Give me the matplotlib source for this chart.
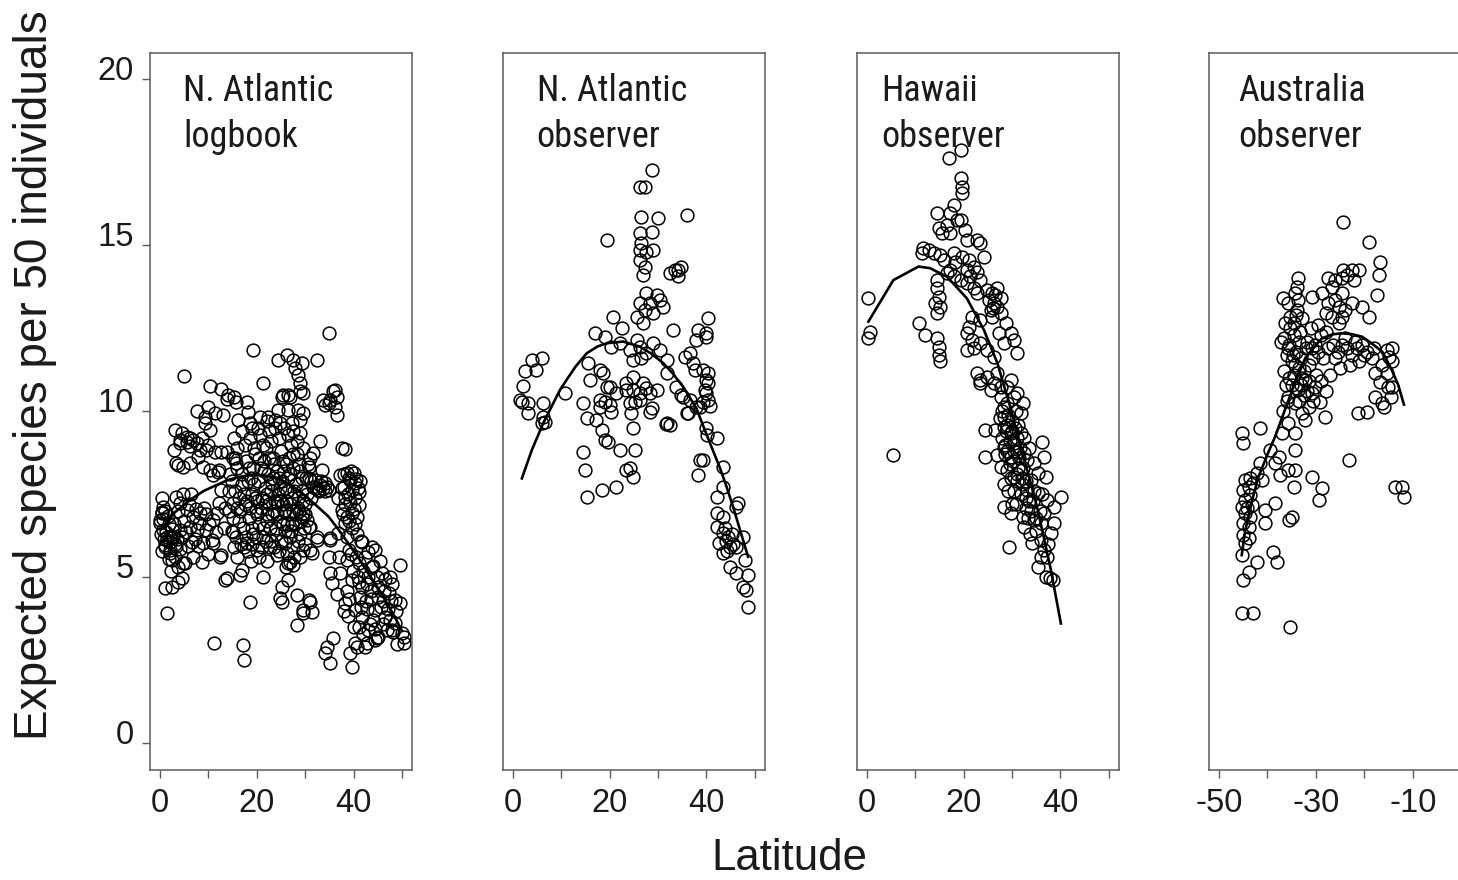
import matplotlib
matplotlib.use("Agg")
import matplotlib.pyplot as plt
from matplotlib.transforms import ScaledTranslation
import numpy as np

# ---------------- data (latitude, expected species per 50 individuals) ----------------
panel_titles = [("N. Atlantic", "logbook"), ("N. Atlantic", "observer"),
                ("Hawaii", "observer"), ("Australia", "observer")]

nal_logbook_pts = [
    (34.8,12.35),(19.2,11.85),(5.0,11.05),(26.2,11.7),(27.4,11.55),(24.4,11.55),(32.4,11.55),(29.3,11.45),
    (27.9,11.3),(28.5,11.1),(21.3,10.84),(10.3,10.75),(12.7,10.68),(14.0,10.5),(13.8,10.38),(15.2,10.44),
    (15.8,10.29),(17.9,10.29),(25.5,10.49),(26.9,10.44),(28.9,10.84),(29.6,10.54),(29.0,10.62),(33.7,10.34),
    (34.8,10.24),(35.8,10.6),(36.5,10.44),(36.5,9.89),(36.2,10.65),(36.2,10.14),(34.1,10.19),(35.1,10.34),
    (25.1,10.44),(26.5,10.49),(24.4,10.04),(26.5,10.04),(28.6,10.04),(29.6,9.94),(24.8,9.64),(27.2,9.64),
    (28.9,9.74),(7.6,10.0),(9.3,9.84),(10.0,10.14),(13.1,9.89),(11.4,9.94),(9.3,9.64),(10.3,9.44),
    (16.2,9.74),(18.2,9.99),(18.6,9.64),(20.7,9.84),(22.4,9.84),(23.8,9.74),
    (3.1,9.44),(4.5,9.34),(2.8,8.83),(4.1,9.04),(5.5,9.24),(6.9,9.14),(6.2,8.94),(8.3,8.83),(3.4,8.43),
    (4.8,8.33),(6.2,8.43),(7.9,8.63),(9.6,8.83),(8.9,8.33),(10.3,8.23),(12.1,8.23),(4.1,9.13),(5.5,9.08),
    (6.2,9.19),(7.6,9.04),(8.6,9.19),(10.0,8.99),(11.4,8.78),(12.7,8.78),(3.8,8.38),(11.0,8.08),(12.0,8.18),
    (13.8,8.78),(15.1,8.58),(15.8,8.43),
    (33.1,9.1),(37.5,8.9),(38.2,8.85),(31.0,8.58),(31.7,8.73),(30.7,8.33),(33.4,8.23),(32.0,7.93),(34.1,7.83),
    (34.8,7.63),(32.7,7.63),(31.7,7.73),(33.1,7.78),(33.7,7.68),(34.4,7.73),
    (37.2,8.08),(38.6,8.13),(40.0,8.13),(39.3,7.93),(40.3,7.83),(37.9,7.73),(39.6,7.63),(41.0,7.58),(38.2,7.43),
    (40.3,7.38),(39.3,7.23),(41.0,7.18),(37.5,7.03),(39.6,6.93),(38.6,6.83),(40.6,6.83),(38.2,6.63),(39.6,6.48),
    (39.0,8.0),(40.5,7.95),(38.8,7.5),(40.0,7.05),
    (36.8,6.32),(38.6,6.22),(35.1,6.17),(32.4,6.22),(31.0,6.52),(30.3,6.73),(29.6,6.93),
    (0.35,7.38),(0.7,7.13),(0.35,6.93),(0.0,6.73),(1.4,6.12),(1.0,5.92),(2.1,5.72),(2.4,5.52),(0.35,6.98),
    (0.0,6.63),(0.7,6.42),(1.4,6.22),(1.0,5.97),(2.1,5.82),(3.1,5.62),(4.8,5.42),(2.7,6.22),(4.1,6.42),
    (3.4,7.43),(4.1,7.23),(5.5,7.03),(6.9,6.83),(8.3,6.93),(6.2,6.52),(7.6,6.42),(8.9,6.02),(10.7,6.12),
    (9.6,6.42),(11.0,6.73),(12.4,5.62),(8.6,5.47),(12.7,7.63),(15.1,7.23),(1.2,6.35),(2.0,6.05),(1.8,6.6),
    (3.0,6.0),(0.8,6.15),(2.5,6.45),(5.0,6.7),(6.0,7.2),(7.2,6.15),(9.0,7.1),(10.2,6.6),(11.8,6.95),(13.2,6.5),
    (5.8,5.95),(4.2,5.85),
    (0.2,6.3),(0.6,6.75),(1.0,7.0),(1.6,6.85),(2.2,6.2),(2.9,6.6),(3.5,6.15),(3.3,5.95),(1.8,5.55),(0.5,5.8),
    (4.6,6.2),(5.3,6.35),(6.6,6.05),(7.8,5.95),(3.8,7.0),(4.7,7.5),(6.5,7.5),(7.5,7.05),(8.0,6.65),(9.5,6.9),
    (10.0,5.7),(11.5,6.35),(13.5,7.1),(12.2,7.25),(6.8,5.6),(3.7,5.3),(2.2,5.2),
    (1.0,4.67),(2.4,4.72),(3.8,4.87),(4.5,4.97),(1.4,3.92),(11.2,3.01),(17.2,2.96),(17.4,2.51),(13.8,4.97),
    (16.5,5.07),(16.9,5.22),(21.3,5.02),(18.5,4.27),(13.4,4.92),(15.1,6.37),(11.0,6.02),(5.2,5.42),(12.7,5.67),
    (25.1,4.72),(24.8,4.37),(28.2,4.47),(30.7,4.32),(31.3,3.96),(29.6,3.92),(28.2,3.56),(25.1,4.27),(26.5,4.92),
    (29.6,4.02),(31.0,4.27),(35.8,3.16),(34.1,2.71),(35.1,2.41),(39.6,2.31),(34.4,2.9),
    (34.8,5.62),(35.1,5.12),(35.5,4.82),(37.2,5.12),(39.0,5.82),(38.6,5.52),(41.7,6.07),(43.0,5.77),(44.4,5.82),
    (41.0,5.42),(43.7,5.32),(45.8,5.12),(47.5,5.02),(49.6,5.37),(39.6,4.92),(41.7,4.72),(43.0,5.02),(45.1,4.72),
    (47.2,4.52),(48.6,4.32),(49.6,4.22),(38.2,4.22),(40.3,4.02),(41.7,3.81),(44.4,4.02),(46.5,3.81),(48.6,3.61),
    (49.9,3.31),(41.0,3.51),(43.0,3.41),(45.1,3.21),(40.3,3.01),(42.4,2.91),(44.4,3.11),(47.9,3.41),(50.3,3.01),
    (39.3,2.71),(50.3,3.21),(48.2,3.36),(44.8,3.16),(42.7,3.01),(40.6,2.91),(38.0,4.0),(39.0,4.35),(42.5,4.3),
    (43.5,4.6),(44.0,3.7),(46.0,4.3),(47.0,4.05),(45.5,5.5),(42.0,5.2),(40.5,5.6),(42.8,4.05),(38.8,3.85),
    (46.8,3.4),(48.0,4.8),(41.2,4.4),(43.3,3.6),(45.0,4.4),(36.5,4.5),(37.0,5.6),(39.8,5.2),(44.0,5.35),(46.5,4.95),
    (39.5,5.7),(40.8,5.0),(42.3,5.6),(43.8,5.9),(44.8,5.0),(46.2,4.6),(47.7,4.3),(48.8,4.0),(46.0,3.6),(44.5,3.45),
    (42.0,3.3),(43.6,4.35),(41.5,4.1),(40.0,3.5),(45.6,4.1),(47.5,3.7),(49.0,3.0),(42.8,4.8),(41.0,4.85),(38.6,4.6),
    (17.9,6.02),(20.0,5.82),(22.7,5.92),(24.1,5.67),(26.2,5.72),(27.5,5.92),(29.6,5.82),(31.3,5.72),(26.9,5.47),
    (27.5,5.37),(24.1,7.23),(25.8,7.03),(27.2,6.63),(29.3,6.83),(30.7,6.52),(32.4,6.12),(35.1,6.12),(31.0,5.82),
    (25.8,6.02),(27.6,5.62),(26.5,5.42),
    (37.5,7.7),(38.0,8.1),(38.3,7.2),(39.5,8.2),(40.8,7.7),(41.2,7.9),(37.8,6.9),(39.0,6.7),(40.2,6.6),(36.8,7.4),
    (40.7,6.3),(41.6,6.1),(32.2,7.7),(32.9,7.6),(33.3,7.9),(34.0,7.6),(31.2,7.9),
    (14.5,8.1),(15.5,7.6),(16.0,8.3),(16.5,7.0),(17.0,7.8),(17.2,6.5),(17.8,8.5),(18.0,7.3),(18.3,6.8),(18.8,8.0),
    (19.0,7.5),(19.2,6.3),(19.6,8.7),(19.8,7.0),(20.2,7.9),(20.4,6.6),(20.8,8.3),(21.0,7.4),(21.3,6.2),(21.6,7.7),
    (21.8,8.9),(22.0,6.9),(22.3,8.1),(22.5,7.2),(22.8,6.5),(23.1,7.8),(23.3,8.6),(23.6,7.0),(23.9,6.3),(24.1,8.2),
    (24.4,7.5),(24.7,6.7),(25.0,8.8),(25.2,7.9),(25.5,7.2),(25.8,6.4),(26.0,8.4),(26.3,7.6),(26.6,6.9),(26.9,8.1),
    (27.2,7.4),(27.5,8.7),(27.8,6.6),(28.1,7.8),(28.4,7.1),(28.7,8.4),(29.0,6.3),(29.3,7.6),(29.6,8.9),(30.0,7.2),
    (15.0,6.8),(15.8,6.2),(16.3,7.4),(14.3,7.0),(14.8,6.4),(16.8,6.0),(18.6,9.2),(20.6,9.3),(22.6,9.4),(24.6,9.2),
    (26.4,9.3),(28.3,9.1),(17.5,9.0),(19.4,8.9),(21.2,9.0),(23.0,9.1),(25.3,8.5),(27.0,9.0),(28.8,7.0),(30.2,8.0),
    (16.0,8.9),(15.2,9.2),(18.1,5.8),(20.5,5.6),(22.0,5.5),(23.5,5.9),(25.0,6.1),(26.8,6.2),(28.4,6.1),(29.8,6.5),
    (19.0,6.0),(21.8,6.1),(24.0,6.5),(17.6,7.2),(19.5,7.8),(21.4,8.5),(23.4,8.0),(25.6,7.0),(27.4,7.0),(28.9,8.2),
    (22.2,7.5),(20.0,7.3),(18.4,8.3),(24.8,7.7),(26.1,7.3),(26.7,8.6),(30.3,7.5),(30.8,8.0),(31.2,7.4),(29.5,7.3),
    (14.2,7.6),(14.9,7.9),(15.4,8.6),(15.9,7.1),(16.4,6.7),(16.9,8.1),(17.3,7.5),(17.7,6.2),(18.2,7.9),(18.5,7.1),
    (18.9,6.5),(19.3,8.3),(19.7,7.4),(20.1,6.9),(20.5,8.6),(20.9,7.1),(21.2,6.5),(21.5,8.2),(21.9,7.3),(22.2,6.7),
    (22.6,8.6),(22.9,7.6),(23.2,6.9),(23.6,8.4),(23.8,7.3),(24.2,6.9),(24.5,8.0),(24.9,7.3),(25.3,6.6),(25.6,8.2),
    (25.9,7.7),(26.2,6.6),(26.5,8.0),(26.9,7.2),(27.1,6.4),(27.4,8.3),(27.7,7.6),(28.0,6.9),(28.3,8.7),(28.6,7.4),
    (29.1,6.7),(29.4,8.0),(29.9,6.9),(30.5,8.4),(20.3,9.5),(22.0,9.7),(23.7,9.5),(25.7,9.5),(27.5,9.4),(28.9,9.35),
    (19.0,9.5),(17.0,9.4),(21.0,5.9),(23.0,6.1),(19.8,6.2),(17.3,5.9),(16.0,5.6),(18.7,5.5),(24.5,5.8),(26.0,5.3),
    (28.9,5.6),(30.0,6.0),(15.3,5.9),
]

nal_observer_pts = [
    (28.7,17.27),(26.2,16.77),(27.3,16.77),(26.6,15.86),(30.0,15.81),(35.9,15.91),(19.4,15.16),(26.2,15.36),
    (28.7,15.41),(26.6,15.06),(26.2,14.86),(27.6,14.81),(29.0,14.86),(26.2,14.56),(27.3,14.36),(26.9,14.11),
    (32.4,14.16),(33.5,14.26),(34.1,14.06),(34.8,14.36),(34.1,14.26),
    (27.6,13.55),(29.7,13.5),(26.2,13.25),(28.3,13.25),(30.4,13.35),(31.1,13.15),(27.3,13.05),(29.0,12.95),
    (20.7,12.85),(25.6,12.85),(26.9,12.65),(33.1,12.45),(40.3,12.8),(38.3,12.45),(40.0,12.35),(37.9,12.15),
    (22.5,12.5),(17.0,12.35),(19.0,12.25),(20.4,11.95),(22.1,12.05),(24.2,11.85),(25.6,12.15),(26.2,11.95),
    (27.6,11.75),(29.0,12.05),(30.4,11.85),(31.8,11.55),(26.6,11.6),(24.9,11.55),(15.6,11.45),(18.0,11.25),
    (35.5,11.65),(36.6,11.75),(37.2,11.45),(37.6,11.25),(40.0,12.25),(39.3,11.25),(40.3,11.15),(40.3,10.85),
    (40.0,10.55),(40.3,10.35),(40.7,10.15),
    (3.9,11.55),(6.0,11.6),(4.9,11.25),(2.5,11.2),(2.2,10.75),(1.5,10.35),(3.2,10.25),(6.3,10.25),(10.8,10.55),
    (1.9,10.29),(3.2,9.94),(6.3,9.84),(6.7,9.69),(6.0,9.64),
    (15.3,9.79),(17.3,9.74),(18.0,10.14),(19.0,10.29),(20.1,10.19),(20.4,9.99),(19.4,10.74),(18.4,9.44),(19.0,9.14),
    (19.7,9.08),(22.1,8.83),(25.2,8.83),(24.9,9.49),(24.5,9.94),(25.2,10.29),(23.5,10.64),(24.9,10.64),(26.2,10.54),
    (27.6,10.69),(28.7,10.09),(28.3,9.99),(31.8,9.64),(32.4,9.59),(31.6,9.62),(34.8,10.49),(36.2,9.94),(37.9,10.14),
    (39.3,10.29),(39.7,10.64),(40.0,10.94),
    (14.6,8.78),(14.9,8.23),(15.3,7.43),(18.4,7.63),(21.4,7.73),(23.5,8.23),(24.2,8.28),(24.9,8.03),
    (38.6,8.53),(39.3,8.53),(38.3,8.08),(42.1,9.19),(43.4,8.33),(43.4,7.73),(42.1,7.43),(42.1,6.93),(42.1,6.52),
    (43.4,6.83),(43.4,6.32),(44.5,6.22),(46.2,7.13),(46.5,7.23),(47.5,6.22),(46.2,5.92),(47.9,5.52),(44.8,5.92),
    (42.7,6.02),(43.4,5.72),(44.8,5.32),(46.2,5.12),(48.6,5.07),(47.5,4.72),(48.6,4.11),(48.2,4.62),(44.0,6.1),
    (45.2,6.3),(44.2,5.8),(45.5,6.0),(43.8,6.5),(35.2,10.44),(35.9,9.94),(39.9,9.5),(40.1,9.3),
    (15.9,10.94),(18.7,11.14),(20.1,10.74),(21.4,10.54),(23.5,10.84),(24.9,11.04),(26.9,10.84),(28.3,10.54),
    (29.7,10.64),(31.8,11.14),(33.8,10.74),(36.6,10.34),(38.6,10.14),(26.2,10.34),(24.2,10.24),(18.0,10.34),(14.6,10.24),
]

hawaii_observer_pts = [
    (16.9,17.62),(19.4,17.87),(19.4,17.02),(19.7,16.77),(19.7,16.57),(18.0,16.22),(17.3,15.97),(14.5,15.97),
    (18.7,15.76),(16.6,15.61),(14.9,15.51),(15.6,15.36),(19.4,15.76),(20.4,15.46),(20.7,15.16),(22.8,15.16),
    (23.5,15.06),(17.3,15.36),
    (11.7,14.91),(12.8,14.86),(11.4,14.76),(13.8,14.76),(15.2,14.71),(15.9,14.56),(18.0,14.76),(18.3,14.51),
    (19.7,14.66),(21.1,14.56),(20.7,14.26),(22.1,14.36),(22.8,14.21),(24.2,14.66),(21.4,14.06),(23.5,13.96),
    (14.5,13.96),(14.5,13.7),(14.9,13.45),(15.2,13.15),(14.5,12.95),(14.2,13.25),
    (16.6,14.16),(18.0,14.06),(19.4,13.96),(20.7,13.85),(22.1,13.7),(22.8,13.55),(17.3,14.26),
    (24.9,13.65),(25.9,13.55),(27.0,13.7),(25.2,13.35),(26.3,13.25),(27.7,13.4),(25.6,13.05),(27.0,13.15),
    (27.7,12.95),(25.9,12.85),(26.5,13.5),(26.0,13.1),(21.8,12.85),(21.1,12.55),(23.5,12.75),
    (28.7,12.65),(29.7,12.35),(30.4,12.15),(31.1,11.75),(28.3,12.05),(27.3,12.35),
    (20.7,12.35),(21.8,12.15),(20.7,11.85),(22.1,11.9),(23.5,12.05),(24.9,11.85),(26.3,11.65),
    (0.35,13.4),(0.7,12.4),(0.35,12.2),
    (10.7,12.65),(12.1,12.3),(14.5,12.2),(14.9,11.95),(14.9,11.7),(15.2,11.5),
    (22.8,11.14),(23.5,10.94),(24.9,11.04),(26.3,10.84),(27.0,11.14),(27.7,10.74),(29.0,10.74),(29.7,10.94),
    (31.1,10.54),(32.2,10.24),(29.0,10.24),(27.7,10.44),(5.5,8.68),
    (23.5,10.84),(25.6,10.64),(30.4,10.44),(31.8,9.94),(28.3,10.14),(28.3,9.84),
    (24.5,9.44),(26.6,9.44),(24.5,8.63),(27.0,8.68),(28.3,9.54),(29.7,9.34),(28.3,8.93),(30.4,9.04),(31.8,9.34),
    (29.7,8.63),(31.1,8.78),(32.5,8.73),(27.7,8.33),(29.0,8.23),(30.4,8.03),(32.2,8.28),(33.2,8.53),(34.6,8.43),
    (36.3,9.08),(36.6,8.63),(35.3,8.13),(37.0,8.03),(33.9,7.93),(33.2,7.63),(35.3,7.53),(37.3,7.33),(40.1,7.43),
    (38.7,7.13),(36.6,6.93),(38.7,6.63),(28.3,7.13),(29.7,6.93),(32.2,6.83),(32.5,6.52),(34.6,6.73),(29.4,5.92),
    (34.2,6.02),(36.0,6.12),(36.6,5.82),(37.3,5.62),(35.3,5.32),(37.0,5.02),(38.4,4.92),(38.0,6.32),(36.0,6.63),
    (37.8,4.98),
    (28.0,10.0),(29.2,9.9),(30.0,9.7),(28.8,9.4),(30.6,9.5),(29.5,9.1),(31.0,9.2),(28.6,8.7),(30.2,8.5),(31.5,8.6),
    (29.8,8.0),(31.0,7.9),(32.0,8.0),(30.5,7.6),(31.8,7.5),(32.8,7.9),(33.5,7.3),(34.0,7.0),(33.0,7.1),(29.0,9.6),
    (30.8,10.0),(32.5,9.2),(33.5,8.9),(34.5,7.6),(35.8,7.0),(35.0,6.4),(28.0,9.2),(31.3,8.3),(29.2,7.6),(30.0,7.2),
    (27.5,9.8),(28.5,9.0),(29.5,8.4),(30.5,8.8),(31.0,8.1),(31.7,8.9),(32.0,7.8),(32.8,7.4),(33.3,6.8),(34.3,7.3),
    (35.0,6.8),(29.0,8.8),(30.0,9.4),(31.3,9.6),(28.4,7.8),(30.8,7.2),(33.8,6.3),(36.3,7.5),(37.5,6.0),(36.0,5.6),
]

australia_observer_pts = [
    (-24.3,15.71),(-19.1,15.11),(-16.7,14.5),(-17.0,14.1),(-17.4,13.5),
    (-24.3,14.26),(-22.5,14.26),(-21.1,14.26),(-27.4,14.01),(-26.0,13.96),(-24.6,14.01),(-23.5,14.11),(-22.2,13.96),
    (-33.6,14.01),(-33.9,13.75),(-34.3,13.55),(-33.6,13.35),(-36.7,13.4),(-35.7,13.25),(-33.9,13.05),(-35.3,12.85),
    (-36.3,12.65),(-34.6,12.65),
    (-30.8,13.45),(-28.7,13.55),(-27.4,13.25),(-26.0,13.35),(-24.6,13.55),(-26.7,13.75),(-25.3,13.15),(-23.9,13.05),
    (-28.0,12.95),(-26.7,12.85),(-24.6,12.85),(-22.5,13.25),(-25.3,12.65),(-20.5,13.15),(-19.1,12.85),
    (-15.3,11.85),(-14.2,11.9),(-14.9,11.65),(-14.2,11.5),(-16.3,11.4),(-17.7,11.15),(-15.3,11.15),(-16.7,10.89),
    (-14.2,10.74),(-14.5,10.44),(-16.3,10.24),
    (-45.3,9.34),(-45.0,9.04),(-41.5,9.49),(-23.2,8.53),
    (-21.2,9.94),(-19.4,9.99),(-17.7,10.44),(-16.0,10.14),(-15.0,10.74),
    (-13.6,7.73),(-12.2,7.73),(-11.8,7.43),
    (-35.7,10.44),(-34.3,10.24),(-32.9,9.94),(-32.2,9.74),(-31.5,10.14),(-29.1,10.29),(-28.1,9.84),(-33.6,10.64),
    (-30.8,10.54),(-30.1,10.74),(-32.2,10.94),
    (-35.7,9.64),(-37.0,9.34),(-34.3,9.34),(-39.4,8.83),(-37.7,8.63),(-38.4,8.43),(-37.4,8.08),(-35.7,8.23),
    (-34.3,8.23),(-34.3,8.83),(-34.6,7.73),(-30.8,8.03),(-28.7,7.68),(-29.4,7.33),(-34.9,6.83),(-35.6,6.73),
    (-38.4,7.23),(-40.5,7.03),(-40.5,6.63),(-42.2,8.13),(-41.2,7.93),(-41.5,8.43),
    (-44.6,7.93),(-43.6,7.98),(-45.0,7.63),(-43.9,7.73),(-42.9,7.83),(-44.6,7.33),(-43.6,7.48),(-45.3,7.13),
    (-44.3,7.08),(-43.2,7.18),(-44.6,6.93),(-43.6,6.83),(-45.0,6.63),(-43.9,6.52),(-45.0,6.27),(-43.9,6.17),
    (-44.6,6.02),(-45.3,5.67),(-43.9,5.17),(-42.2,5.47),(-45.0,4.92),(-45.3,3.92),(-42.9,3.92),
    (-38.8,5.77),(-38.1,5.47),(-35.3,3.51),
    (-36.5,12.2),(-35.5,12.0),(-34.5,12.3),(-33.5,12.1),(-36.0,11.7),(-35.0,11.5),(-34.0,11.8),(-33.0,11.6),
    (-32.0,11.9),(-36.5,11.2),(-35.5,11.0),(-34.5,11.1),(-33.5,11.3),(-32.5,11.2),(-31.5,11.4),(-30.5,11.6),
    (-35.0,10.8),(-34.0,10.7),(-33.0,10.8),(-31.8,10.6),(-36.0,10.3),(-36.8,10.0),(-29.5,11.8),(-28.5,11.6),
    (-27.5,11.9),(-26.5,12.0),(-25.5,11.8),(-24.5,12.0),(-23.5,11.9),(-22.5,11.7),(-21.5,11.9),(-20.5,12.0),
    (-19.5,11.8),(-18.5,11.6),(-29.0,12.3),(-27.8,12.4),(-30.2,12.0),(-31.0,12.5),(-32.8,12.8),(-34.0,12.9),
    (-25.0,11.3),(-23.0,11.4),(-21.0,11.5),(-27.0,11.1),(-29.0,10.9),(-35.8,11.9),(-37.2,12.1),(-30.0,11.1),(-28.0,10.6),
    (-33.5,10.3),(-32.5,10.5),(-31.5,10.9),(-30.5,10.3),(-34.8,11.7),(-33.2,12.4),(-35.3,12.5),(-31.8,12.1),
    (-30.8,11.9),(-29.6,12.6),(-36.2,10.8),(-34.2,11.4),(-32.8,11.0),(-22.0,12.1),(-24.0,12.2),(-26.0,11.6),
    (-20.0,11.7),(-18.0,11.9),
]

# fitted curves
nal_logbook_fit_lat = [0.7, 3, 6.2, 9, 11.7, 14, 16.5, 19, 21, 24.1, 26.5, 29, 32, 34.8, 36.8, 38.9, 41, 43, 45, 46.5, 48.2, 49.9]
nal_logbook_fit_val = [6.52, 6.95, 7.33, 7.6, 7.78, 7.93, 8.03, 8.08, 8.08, 8.0, 7.83, 7.58, 7.2, 6.83, 6.45, 6.02, 5.58, 5.12, 4.68, 4.32, 3.88, 3.41]

nal_observer_fit_lat = [1.9, 4, 6.3, 9.75, 11.1, 13, 15.3, 17.5, 19.4, 22.8, 26.2, 28.5, 31.1, 33, 35.2, 37.9, 39.5, 41, 42.7, 44, 45.5, 47, 48.6]
nal_observer_fit_val = [7.98, 8.85, 9.64, 10.64, 10.94, 11.35, 11.75, 11.95, 12.05, 12.1, 11.95, 11.75, 11.45, 11.15, 10.74, 10.1, 9.5, 8.95, 8.33, 7.8, 7.13, 6.4, 5.62]

hawaii_fit_lat = [0.35, 5.5, 10.7, 13.1, 16.6, 20.7, 24.2, 27, 29.7, 31.8, 33.5, 35.3, 38, 40.1]
hawaii_fit_val = [12.7, 13.95, 14.36, 14.31, 14.05, 13.4, 12.45, 11.45, 10.1, 8.93, 8.05, 7.05, 5.25, 3.61]

australia_fit_lat = [-45.3, -44.6, -43, -41.9, -40, -38.4, -36, -34.3, -32.2, -30, -28.7, -26.5, -24.6, -22.5, -20.5, -18.5, -16.3, -14.5, -13.0, -11.8]
australia_fit_val = [5.67, 6.4, 7.4, 8.0, 8.7, 9.24, 10.2, 10.85, 11.6, 12.0, 12.2, 12.32, 12.35, 12.32, 12.25, 12.05, 11.8, 11.3, 10.8, 10.2]

y_ticks = [0, 5, 10, 15, 20]
x_ticks_pos = [0, 10, 20, 30, 40, 50]
x_labels_pos = ["0", "", "20", "", "40", ""]
x_ticks_neg = [-50, -40, -30, -20, -10, 0]
x_labels_neg = ["-50", "", "-30", "", "-10", ""]

# ---------------- figure ----------------
W, H = 1458, 880
fig = plt.figure(figsize=(W / 100, H / 100), dpi=100)

body_font = ["Liberation Sans", "DejaVu Sans"]
title_font = ["Roboto Condensed", "Liberation Sans Narrow", "Liberation Sans", "DejaVu Sans"]

panels = [
    (nal_logbook_pts, nal_logbook_fit_lat, nal_logbook_fit_val, (-2, 52), x_ticks_pos, x_labels_pos, 150.3, 4.75),
    (nal_observer_pts, nal_observer_fit_lat, nal_observer_fit_val, (-2, 52), x_ticks_pos, x_labels_pos, 503.0, 4.95),
    (hawaii_observer_pts, hawaii_fit_lat, hawaii_fit_val, (-2, 52), x_ticks_pos, x_labels_pos, 857.0, 3.1),
    (australia_observer_pts, australia_fit_lat, australia_fit_val, (-52, 2), x_ticks_neg, x_labels_neg, 1209.3, -46.1),
]

ax_w_px = 261.5
ax_bottom_px = 769.9
ax_top_px = 52.7
spine_col = "#5a5a5a"
text_col = "#1a1a1a"

for i, (pts, flat, fval, xlim, xt, xl, left_px, tx) in enumerate(panels):
    ax = fig.add_axes([left_px / W, 1 - ax_bottom_px / H, ax_w_px / W, (ax_bottom_px - ax_top_px) / H])
    lat = [p[0] for p in pts]
    spp = [p[1] for p in pts]
    ax.plot(lat, spp, linestyle="none", marker="o", markersize=9.2, markerfacecolor="none",
            markeredgecolor="black", markeredgewidth=1.1, clip_on=False)
    ax.plot(flat, fval, color="black", linewidth=1.9, solid_joinstyle="miter")
    ax.set_xlim(*xlim)
    ax.set_ylim(-0.8, 20.8)
    ax.set_xticks(xt)
    ax.set_xticklabels(xl)
    for s in ax.spines.values():
        s.set_color(spine_col)
        s.set_linewidth(1.1)
    ax.tick_params(axis="x", direction="out", length=5.5, width=1.0, color=spine_col,
                   labelsize=23.5, labelcolor=text_col, pad=7.5)
    if i == 0:
        ax.set_yticks(y_ticks)
        ax.set_yticklabels([str(v) for v in y_ticks])
        ax.tick_params(axis="y", direction="out", length=6, width=1.0, color=spine_col,
                       labelsize=23.5, labelcolor=text_col, pad=6)
        off = ScaledTranslation(0, 11 / 100, fig.dpi_scale_trans)
        for lab in ax.get_yticklabels():
            lab.set_transform(lab.get_transform() + off)
            lab.set_fontfamily(body_font)
    else:
        ax.set_yticks([])
    for lab in ax.get_xticklabels():
        lab.set_fontfamily(body_font)
    t1, t2 = panel_titles[i]
    ax.text(tx, 19.35, t1, fontsize=26, family=title_font, color=text_col, va="baseline", ha="left")
    ax.text(tx, 17.97, t2, fontsize=26, family=title_font, color=text_col, va="baseline", ha="left")

fig.text(35 / W, 1 - 375 / H, "Expected species per 50 individuals", rotation=90, ha="center", va="center",
         fontsize=33, family=body_font, color=text_col)
fig.text(789 / W, 1 - 870 / H, "Latitude", ha="center", va="baseline",
         fontsize=31.5, family=body_font, color=text_col)

fig.savefig("out.png", dpi=100)
